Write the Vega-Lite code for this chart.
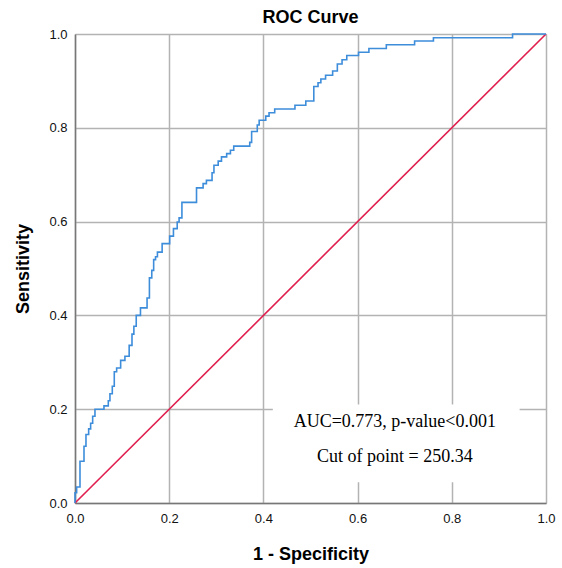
{
  "$schema": "https://vega.github.io/schema/vega-lite/v6.json",
  "width": 471,
  "height": 469,
  "autosize": {"type": "none"},
  "padding": {"left": 75, "top": 34, "right": 16, "bottom": 65},
  "background": "white",
  "title": {"text": "ROC Curve", "font": "Liberation Sans", "fontSize": 18, "fontWeight": "bold", "color": "#000000", "offset": 1, "anchor": "middle"},
  "config": {
    "view": {"stroke": null},
    "axis": {"grid": true, "gridColor": "#b3b3b3", "gridWidth": 1.5, "domainColor": "#777777", "domainWidth": 1.5, "ticks": false,
      "labelFlush": false, "labelOverlap": false,
      "labelFont": "Liberation Sans", "labelFontSize": 13, "labelColor": "#111111",
      "titleFont": "Liberation Sans", "titleFontSize": 18, "titleFontWeight": "bold", "titleColor": "#000000"},
    "axisX": {"labelPadding": 9, "titlePadding": 20},
    "axisY": {"labelPadding": 8, "titlePadding": 16}
  },
  "datasets": {
    "roc": [
      {"i":0,"x":0,"y":0},{"i":1,"x":0,"y":0.022},{"i":2,"x":0.0035,"y":0.022},{"i":3,"x":0.0035,"y":0.034},
      {"i":4,"x":0.0106,"y":0.034},{"i":5,"x":0.0106,"y":0.089},{"i":6,"x":0.0191,"y":0.089},{"i":7,"x":0.0191,"y":0.121},
      {"i":8,"x":0.0233,"y":0.121},{"i":9,"x":0.0233,"y":0.146},{"i":10,"x":0.029,"y":0.146},{"i":11,"x":0.029,"y":0.158},
      {"i":12,"x":0.0332,"y":0.158},{"i":13,"x":0.0332,"y":0.17},{"i":14,"x":0.0375,"y":0.17},{"i":15,"x":0.0375,"y":0.185},
      {"i":16,"x":0.0424,"y":0.185},{"i":17,"x":0.0424,"y":0.2},{"i":18,"x":0.0615,"y":0.2},{"i":19,"x":0.0615,"y":0.207},
      {"i":20,"x":0.0707,"y":0.207},{"i":21,"x":0.0707,"y":0.218},{"i":22,"x":0.0742,"y":0.218},{"i":23,"x":0.0742,"y":0.233},
      {"i":24,"x":0.0792,"y":0.233},{"i":25,"x":0.0792,"y":0.249},{"i":26,"x":0.0834,"y":0.249},{"i":27,"x":0.0834,"y":0.28},
      {"i":28,"x":0.0884,"y":0.28},{"i":29,"x":0.0884,"y":0.288},{"i":30,"x":0.0969,"y":0.288},{"i":31,"x":0.0969,"y":0.304},
      {"i":32,"x":0.106,"y":0.304},{"i":33,"x":0.106,"y":0.313},{"i":34,"x":0.115,"y":0.313},{"i":35,"x":0.115,"y":0.336},
      {"i":36,"x":0.121,"y":0.336},{"i":37,"x":0.121,"y":0.36},{"i":38,"x":0.125,"y":0.36},{"i":39,"x":0.125,"y":0.377},
      {"i":40,"x":0.13,"y":0.377},{"i":41,"x":0.13,"y":0.4},{"i":42,"x":0.139,"y":0.4},{"i":43,"x":0.139,"y":0.416},
      {"i":44,"x":0.153,"y":0.416},{"i":45,"x":0.153,"y":0.437},{"i":46,"x":0.158,"y":0.437},{"i":47,"x":0.158,"y":0.48},
      {"i":48,"x":0.163,"y":0.48},{"i":49,"x":0.163,"y":0.496},{"i":50,"x":0.167,"y":0.496},{"i":51,"x":0.167,"y":0.519},
      {"i":52,"x":0.171,"y":0.519},{"i":53,"x":0.171,"y":0.525},{"i":54,"x":0.175,"y":0.525},{"i":55,"x":0.175,"y":0.535},
      {"i":56,"x":0.185,"y":0.535},{"i":57,"x":0.185,"y":0.553},{"i":58,"x":0.201,"y":0.553},{"i":59,"x":0.201,"y":0.569},
      {"i":60,"x":0.209,"y":0.569},{"i":61,"x":0.209,"y":0.585},{"i":62,"x":0.217,"y":0.585},{"i":63,"x":0.217,"y":0.599},
      {"i":64,"x":0.221,"y":0.599},{"i":65,"x":0.221,"y":0.608},{"i":66,"x":0.227,"y":0.608},{"i":67,"x":0.227,"y":0.641},
      {"i":68,"x":0.258,"y":0.641},{"i":69,"x":0.258,"y":0.672},{"i":70,"x":0.272,"y":0.672},{"i":71,"x":0.272,"y":0.681},
      {"i":72,"x":0.279,"y":0.681},{"i":73,"x":0.279,"y":0.688},{"i":74,"x":0.291,"y":0.688},{"i":75,"x":0.291,"y":0.704},
      {"i":76,"x":0.295,"y":0.704},{"i":77,"x":0.295,"y":0.72},{"i":78,"x":0.304,"y":0.72},{"i":79,"x":0.304,"y":0.729},
      {"i":80,"x":0.311,"y":0.729},{"i":81,"x":0.311,"y":0.738},{"i":82,"x":0.322,"y":0.738},{"i":83,"x":0.322,"y":0.745},
      {"i":84,"x":0.33,"y":0.745},{"i":85,"x":0.33,"y":0.752},{"i":86,"x":0.337,"y":0.752},{"i":87,"x":0.337,"y":0.761},
      {"i":88,"x":0.371,"y":0.761},{"i":89,"x":0.371,"y":0.769},{"i":90,"x":0.375,"y":0.769},{"i":91,"x":0.375,"y":0.792},
      {"i":92,"x":0.387,"y":0.792},{"i":93,"x":0.387,"y":0.806},{"i":94,"x":0.391,"y":0.806},{"i":95,"x":0.391,"y":0.816},
      {"i":96,"x":0.405,"y":0.816},{"i":97,"x":0.405,"y":0.825},{"i":98,"x":0.412,"y":0.825},{"i":99,"x":0.412,"y":0.832},
      {"i":100,"x":0.424,"y":0.832},{"i":101,"x":0.424,"y":0.84},{"i":102,"x":0.467,"y":0.84},{"i":103,"x":0.467,"y":0.848},
      {"i":104,"x":0.49,"y":0.848},{"i":105,"x":0.49,"y":0.857},{"i":106,"x":0.507,"y":0.857},{"i":107,"x":0.507,"y":0.888},
      {"i":108,"x":0.516,"y":0.888},{"i":109,"x":0.516,"y":0.896},{"i":110,"x":0.522,"y":0.896},{"i":111,"x":0.522,"y":0.904},
      {"i":112,"x":0.532,"y":0.904},{"i":113,"x":0.532,"y":0.912},{"i":114,"x":0.547,"y":0.912},{"i":115,"x":0.547,"y":0.921},
      {"i":116,"x":0.557,"y":0.921},{"i":117,"x":0.557,"y":0.936},{"i":118,"x":0.567,"y":0.936},{"i":119,"x":0.567,"y":0.945},
      {"i":120,"x":0.577,"y":0.945},{"i":121,"x":0.577,"y":0.954},{"i":122,"x":0.602,"y":0.954},{"i":123,"x":0.602,"y":0.961},
      {"i":124,"x":0.624,"y":0.961},{"i":125,"x":0.624,"y":0.969},{"i":126,"x":0.661,"y":0.969},{"i":127,"x":0.661,"y":0.977},
      {"i":128,"x":0.721,"y":0.977},{"i":129,"x":0.721,"y":0.985},{"i":130,"x":0.761,"y":0.985},{"i":131,"x":0.761,"y":0.992},
      {"i":132,"x":0.929,"y":0.992},{"i":133,"x":0.929,"y":1.0},{"i":134,"x":1.0,"y":1.0}
    ],
    "diag": [{"x":0,"y":0},{"x":1,"y":1}],
    "box": [{"x":0.42,"x2":0.944,"y":0.044,"y2":0.21}],
    "notes": [
      {"x":0.679,"y":0.161,"label":"AUC=0.773, p-value<0.001"},
      {"x":0.679,"y":0.087,"label":"Cut of point = 250.34"}
    ]
  },
  "encoding": {
    "x": {"field": "x", "type": "quantitative", "scale": {"domain": [0, 1], "nice": false},
      "axis": {"title": "1 - Specificity", "values": [0, 0.2, 0.4, 0.6, 0.8, 1], "format": ".1f"}},
    "y": {"field": "y", "type": "quantitative", "scale": {"domain": [0, 1], "nice": false},
      "axis": {"title": "Sensitivity", "values": [0, 0.2, 0.4, 0.6, 0.8, 1], "format": ".1f"}}
  },
  "layer": [
    {"data": {"name": "box"}, "mark": {"type": "rect", "fill": "white", "stroke": null},
     "encoding": {"x2": {"field": "x2"}, "y2": {"field": "y2"}}},
    {"data": {"name": "diag"}, "mark": {"type": "line", "color": "#e01f4f", "strokeWidth": 1.6}},
    {"data": {"name": "roc"}, "mark": {"type": "line", "color": "#3d8ddb", "strokeWidth": 1.6},
     "encoding": {"order": {"field": "i", "type": "quantitative"}}},
    {"data": {"name": "notes"}, "mark": {"type": "text", "font": "Liberation Serif", "fontSize": 18, "align": "center", "baseline": "alphabetic", "color": "#000000"},
     "encoding": {"text": {"field": "label", "type": "nominal"}}}
  ]
}
